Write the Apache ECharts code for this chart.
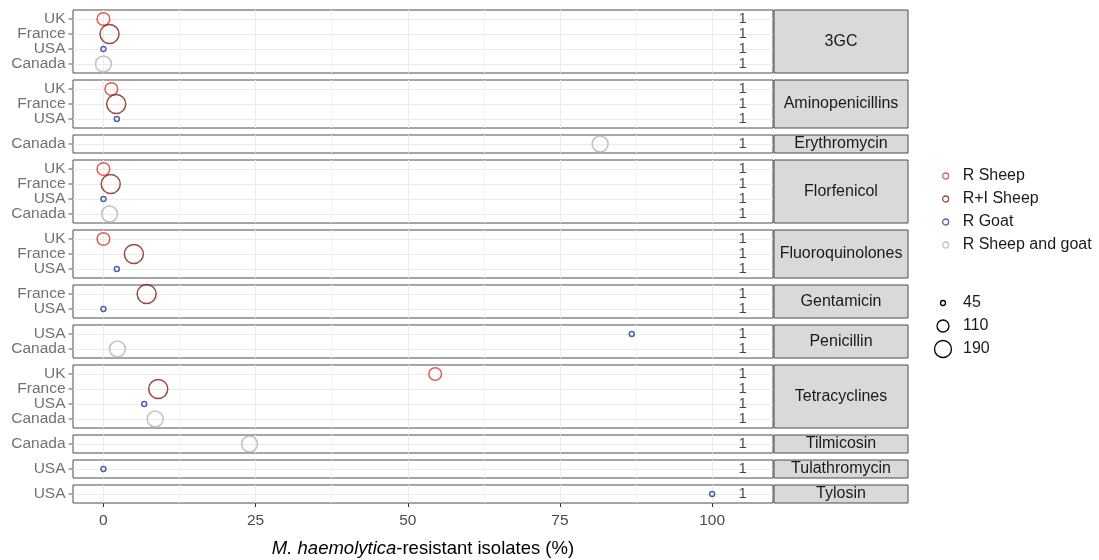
<!DOCTYPE html>
<html><head><meta charset="utf-8">
<script src="https://cdn.jsdelivr.net/npm/echarts@6/dist/echarts.min.js"></script>
<style>html,body{margin:0;padding:0;background:#fff}#c{width:1099px;height:560px}</style>
</head><body><div id="c"></div>
<script>
// ---- data ----
const drugs = ['3GC','Aminopenicillins','Erythromycin','Florfenicol','Fluoroquinolones','Gentamicin','Penicillin','Tetracyclines','Tilmicosin','Tulathromycin','Tylosin'];
const rowCountries = [
  ['UK','France','USA','Canada'],
  ['UK','France','USA'],
  ['Canada'],
  ['UK','France','USA','Canada'],
  ['UK','France','USA'],
  ['France','USA'],
  ['USA','Canada'],
  ['UK','France','USA','Canada'],
  ['Canada'],
  ['USA'],
  ['USA']
];
const resistance = [
  [0, 1.0, 0, 0],
  [1.3, 2.1, 2.2],
  [81.6],
  [0, 1.2, 0, 1.0],
  [0, 5.0, 2.2],
  [7.1, 0],
  [86.8, 2.3],
  [54.5, 9.0, 6.7, 8.5],
  [24.0],
  [0],
  [100]
];
const isolates = [
  [120, 230, 45, 170],
  [120, 230, 45],
  [170],
  [120, 230, 45, 170],
  [120, 230, 45],
  [230, 45],
  [45, 170],
  [120, 230, 45, 170],
  [170],
  [45],
  [45]
];
const countLabels = [
  ['1','1','1','1'],['1','1','1'],['1'],['1','1','1','1'],['1','1','1'],['1','1'],['1','1'],['1','1','1','1'],['1'],['1'],['1']
];
const labelX = 105;
const groups = ['R Sheep','R+I Sheep','R Goat','R Sheep and goat'];
const groupColors = ['#d4372a','#7f1f12','#1f3f9f','#b3b3b3'];
const countryGroup = {UK:'R Sheep', France:'R+I Sheep', USA:'R Goat', Canada:'R Sheep and goat'};
const xTicks = [0,25,50,75,100];
const xMinor = [12.5,37.5,62.5,87.5];
const xMin = -5, xMax = 110;
const sizeBreaks = [45,110,190];

// ---- layout / style ----
const FONT = '"Liberation Sans", Arial, Helvetica, sans-serif';
const unit = 15, gap = 7, top0 = 10, L = 73, W = 700;
const stripX = 774, stripW = 134;
function sizeFn(n){ return Math.sqrt(Math.max(4, 1.82 * n - 57)); }

const grids = [], xAxes = [], yAxes = [], series = [], graphics = [];
let y = top0;
drugs.forEach((d, p) => {
  const rows = rowCountries[p];
  const n = rows.length;
  const h = (n - 1 + 1.2) * unit;
  const last = p === drugs.length - 1;
  const idx = rows.map((c, i) => i);
  grids.push({left: L, top: y, width: W, height: h, show: true, borderColor: '#4d4d4d', borderWidth: 1, backgroundColor: 'rgba(0,0,0,0)'});
  xAxes.push({
    type: 'value', gridIndex: p, min: xMin, max: xMax, position: 'bottom',
    axisLine: {show: false, onZero: false},
    axisTick: {show: last, customValues: xTicks, length: 4, lineStyle: {color: '#333', width: 1}},
    axisLabel: {show: last, customValues: xTicks, showMinLabel: true, showMaxLabel: true, color: '#4d4d4d', fontSize: 15.5, fontFamily: FONT, margin: 10},
    splitLine: {show: true, lineStyle: {color: '#ebebeb', width: 1}},
    name: last ? '{i|M. haemolytica}-resistant isolates (%)' : '',
    nameLocation: 'middle', nameGap: 36,
    nameTextStyle: {fontSize: 18.5, color: '#000', fontFamily: FONT,
      rich: {i: {fontStyle: 'italic', fontSize: 18.5, color: '#000', fontFamily: FONT}}}
  });
  xAxes.push({
    type: 'value', gridIndex: p, min: xMin, max: xMax, position: 'top',
    axisLine: {show: false, onZero: false},
    axisTick: {show: false, customValues: xMinor},
    axisLabel: {show: false, customValues: xMinor},
    splitLine: {show: true, lineStyle: {color: '#f4f4f4', width: 1}}
  });
  yAxes.push({
    type: 'value', gridIndex: p, min: -0.6, max: n - 0.4, inverse: true, position: 'left',
    axisLine: {show: false, onZero: false},
    axisTick: {show: false, customValues: idx},
    axisLabel: {show: false, customValues: idx},
    splitLine: {show: true, lineStyle: {color: '#ebebeb', width: 1}}
  });
  // y tick marks + category labels (country names), placed by the scales
  series.push({
    type: 'scatter', xAxisIndex: 2 * p, yAxisIndex: p, silent: true, clip: false, z: 5,
    symbol: 'rect', symbolSize: [4, 1], symbolOffset: [-2.5, 0],
    itemStyle: {color: '#333'},
    data: rows.map((c, r) => [xMin, r, c]),
    label: {show: true, position: 'left', distance: 3, formatter: pr => pr.value[2], color: '#4d4d4d', fontSize: 15.5, fontFamily: FONT}
  });
  groups.forEach((g, gi) => {
    const data = [];
    rows.forEach((c, r) => { if (countryGroup[c] === g) data.push([resistance[p][r], r, isolates[p][r]]); });
    if (!data.length) return;
    series.push({
      type: 'scatter', name: g, xAxisIndex: 2 * p, yAxisIndex: p, symbol: 'circle',
      symbolSize: v => sizeFn(v[2]),
      itemStyle: {color: 'rgba(0,0,0,0)', borderColor: groupColors[gi], borderWidth: 1.5},
      emphasis: {disabled: true}, silent: true, z: 3, data
    });
  });
  series.push({
    type: 'scatter', xAxisIndex: 2 * p, yAxisIndex: p, symbolSize: 0, silent: true, z: 4,
    data: rows.map((c, r) => [labelX, r, countLabels[p][r]]),
    label: {show: true, position: 'inside', formatter: pr => pr.value[2], color: '#1a1a1a', fontSize: 15, fontFamily: FONT}
  });
  graphics.push({type: 'rect', shape: {x: stripX, y: y, width: stripW, height: h},
    style: {fill: '#d9d9d9', stroke: '#4d4d4d', lineWidth: 1}, silent: true});
  graphics.push({type: 'text', x: stripX + stripW / 2, y: y + h / 2,
    style: {text: d, align: 'center', verticalAlign: 'middle', fill: '#1a1a1a', fontSize: 16, fontFamily: FONT}, silent: true});
  y += h + gap;
});

sizeBreaks.forEach((b, i) => {
  graphics.push({type: 'circle', shape: {cx: 943, cy: 303 + 23 * i, r: sizeFn(b) / 2},
    style: {fill: 'none', stroke: '#000', lineWidth: 1.3}, silent: true});
  graphics.push({type: 'text', x: 963, y: 303 + 23 * i,
    style: {text: String(b), align: 'left', verticalAlign: 'middle', fill: '#1a1a1a', fontSize: 16, fontFamily: FONT}, silent: true});
});

const chart = echarts.init(document.getElementById('c'), null, {renderer: 'canvas'});
chart.setOption({
  animation: false,
  backgroundColor: '#fff',
  grid: grids, xAxis: xAxes, yAxis: yAxes, series,
  legend: {
    data: groups, orient: 'vertical', left: 937, top: 163, itemWidth: 6, itemHeight: 6, itemGap: 7,
    icon: 'circle', selectedMode: false,
    itemStyle: {borderWidth: 1.3},
    textStyle: {fontSize: 16, color: '#1a1a1a', fontFamily: FONT, padding: [0, 0, 0, 9]}
  },
  graphic: graphics
});
</script></body></html>
